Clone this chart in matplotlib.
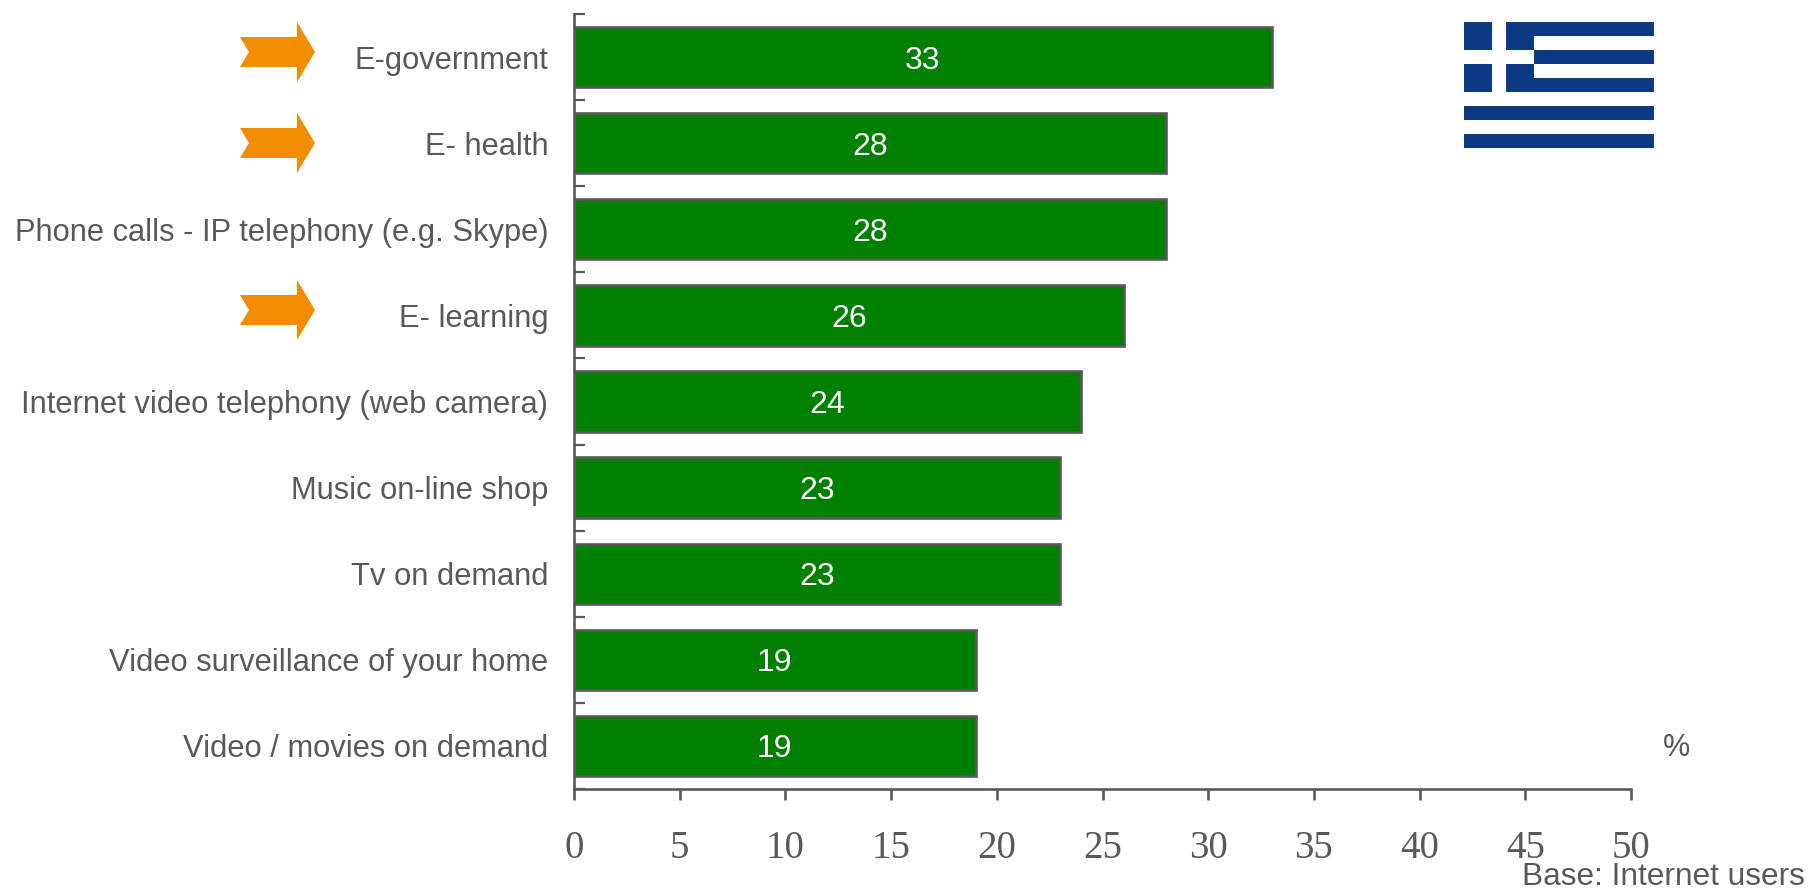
import numpy as np
import matplotlib
matplotlib.use('Agg')
import matplotlib.pyplot as plt
from matplotlib.patches import Polygon, Rectangle

categories = ['E-government', 'E- health', 'Phone calls - IP telephony (e.g. Skype)', 'E- learning',
              'Internet video telephony (web camera)', 'Music on-line shop', 'Tv on demand',
              'Video surveillance of your home', 'Video / movies on demand']
values = [33, 28, 28, 26, 24, 23, 23, 19, 19]
xticks = [0, 5, 10, 15, 20, 25, 30, 35, 40, 45, 50]

W, H = 1811, 889
GREY = '#595959'
plt.rcParams['font.family'] = ['Liberation Sans', 'DejaVu Sans']


def fx(x):
    return x / W


def fy(y):
    return 1 - y / H


fig = plt.figure(figsize=(W / 100, H / 100), dpi=100, facecolor='white')
ax = fig.add_axes([fx(574), fy(789), fx(1631 - 574), (789 - 14) / H])

y = np.arange(len(categories))
ax.barh(y, values, height=0.7, color='#008000', edgecolor=GREY, linewidth=1.9)
for i, v in enumerate(values):
    ax.text(v / 2, i, str(v), color='white', fontsize=23, ha='center', va='center_baseline')

ax.set_xlim(0, 50)
ax.set_ylim(len(categories) - 0.5, -0.5)

for s in ['top', 'right']:
    ax.spines[s].set_visible(False)
for s in ['left', 'bottom']:
    ax.spines[s].set_color(GREY)
    ax.spines[s].set_linewidth(1.9)

# ticks sit between the bars, labels on the bars
ax.set_yticks(np.arange(len(categories) + 1) - 0.5)
ax.set_yticklabels([])
ax.set_yticks(y, minor=True)
ax.set_yticklabels(categories, minor=True, fontsize=22.2, color=GREY)
ax.tick_params(axis='y', which='major', direction='in', length=8, width=1.6, color=GREY)
ax.tick_params(axis='y', which='minor', length=0, pad=18.5)

ax.set_xticks(xticks)
ax.set_xticklabels([str(t) for t in xticks], family='Liberation Serif', fontsize=28, color=GREY)
ax.tick_params(axis='x', direction='out', length=8, width=1.9, color=GREY, pad=21.5)

fig.text(fx(1676), fy(748), '%', fontsize=22, color=GREY, ha='center', va='center')
fig.text(fx(1805), fy(885), 'Base: Internet users', fontsize=22.8, color=GREY, ha='right', va='baseline')

# orange arrows
for cy in [52, 143, 310]:
    pts = [(240, cy - 15), (297, cy - 15), (297, cy - 30), (315, cy), (297, cy + 30),
           (297, cy + 15), (240, cy + 15), (249, cy)]
    fig.add_artist(Polygon([(fx(a), fy(b)) for a, b in pts], closed=True, facecolor='#f28c00',
                           edgecolor='none', transform=fig.transFigure))

# greek flag
flag = fig.add_axes([fx(1464), fy(148), fx(190), 126 / H])
flag.set_xlim(0, 27)
flag.set_ylim(9, 0)
flag.axis('off')
BLUE = '#0d3a85'
for i in range(9):
    flag.add_patch(Rectangle((0, i), 27, 1, facecolor=BLUE if i % 2 == 0 else 'white', edgecolor='none'))
flag.add_patch(Rectangle((0, 0), 10, 5, facecolor=BLUE, edgecolor='none'))
flag.add_patch(Rectangle((4, 0), 2, 5, facecolor='white', edgecolor='none'))
flag.add_patch(Rectangle((0, 2), 10, 1, facecolor='white', edgecolor='none'))

fig.savefig('out.png', dpi=100)
